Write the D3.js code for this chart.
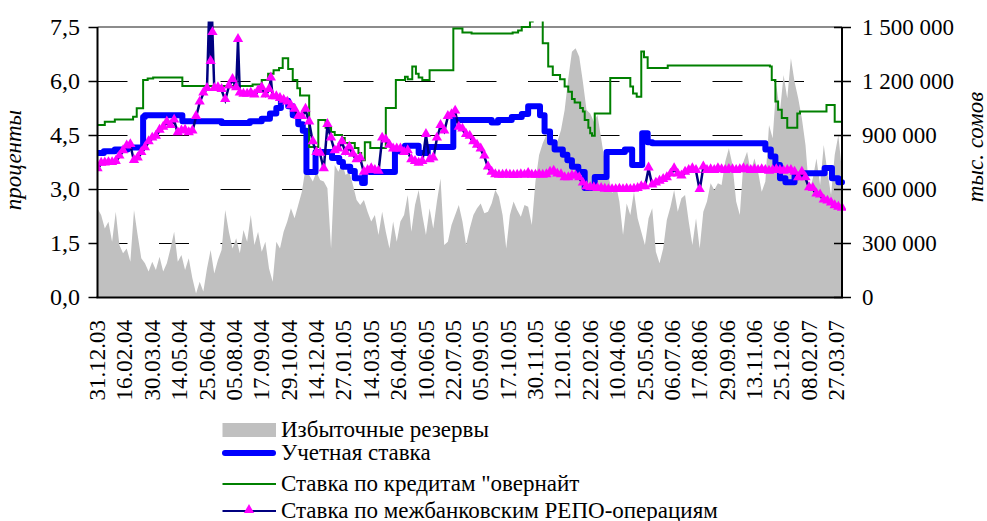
<!DOCTYPE html>
<html>
<head>
<meta charset="utf-8">
<script src="https://cdn.jsdelivr.net/npm/d3@7"></script>
<style>
  body { margin: 0; background: #fff; }
  svg { display: block; }
</style>
</head>
<body>
<svg id="chart" width="987" height="521"></svg>
<script>
// trading-day axis: one category per business day, a label every 30 days
const tickLabels = ["31.12.03","16.02.04","30.03.04","14.05.04","25.06.04","05.08.04","17.09.04","29.10.04",
  "14.12.04","27.01.05","14.03.05","26.04.05","10.06.05","22.07.05","05.09.05","17.10.05","30.11.05",
  "12.01.06","22.02.06","10.04.06","25.05.06","06.07.06","17.08.06","29.09.06","13.11.06","25.12.06",
  "08.02.07","27.03.07"];
const tickEvery = 30;
const lastDay = 816;
const sampleStep = 4;

// excess reserves, thousands of "тыс. сомов"
const reservesK = [492,455,381,418,307,474,289,243,270,196,483,344,215,187,141,196,150,224,141,187,
  270,363,196,233,150,215,104,20,85,30,159,261,131,206,261,483,363,270,326,243,372,307,
  456,289,363,252,307,159,85,307,270,363,419,493,437,511,585,715,678,641,696,650,641,604,270,733,
  696,743,678,696,622,539,511,539,474,419,456,344,474,363,270,419,307,
  419,456,567,363,511,594,456,344,493,381,530,659,289,307,400,456,511,419,289,381,456,493,520,465,
  474,520,594,557,456,270,456,530,483,446,511,502,400,641,789,854,900,
  854,863,863,928,1039,1215,1363,1382,1335,1196,1039,1020,974,1011,882,752,678,576,632,530,344,520,
  456,585,437,363,289,437,493,252,187,270,428,502,594,474,548,567,419,289,437,
  270,474,530,632,594,632,622,752,826,733,530,456,752,807,696,770,696,585,641,956,882,1178,1030,
  1233,1104,1326,1196,1104,993,845,585,659,770,622,845,696,567,789,900,696];

// interbank repo rate, %
const repoRate = [3.55,3.70,3.71,3.72,3.72,3.75,3.90,4.05,4.18,4.22,3.78,3.85,4.00,4.13,4.30,4.40,4.45,
  4.62,4.70,4.85,4.75,4.90,4.55,4.60,4.62,4.55,4.60,5.00,5.40,5.65,5.78,6.53,5.78,5.80,5.75,5.47,5.85,
  6.03,5.80,5.65,5.62,5.62,
  5.65,5.60,5.72,5.80,5.60,5.75,5.55,5.55,5.50,5.45,5.40,5.30,5.20,5.00,5.00,5.20,4.85,4.30,4.00,3.98,
  3.55,4.78,4.40,4.05,4.10,4.30,4.00,4.15,3.95,3.80,3.85,3.45,3.50,3.55,3.50,3.48,4.40,4.35,4.20,4.10,4.10,
  4.10,4.00,4.05,3.80,3.75,3.70,3.75,4.50,3.80,3.85,4.40,4.75,4.60,5.00,5.05,5.15,4.70,4.65,4.50,4.45,
  4.30,4.20,4.10,3.90,3.60,3.45,3.38,3.37,3.37,3.38,3.37,3.36,3.37,3.38,3.37,3.42,3.37,3.37,3.38,3.37,3.38,
  3.45,3.48,3.40,3.38,3.30,3.30,3.35,3.35,3.30,3.15,3.05,3.02,3.02,3.00,3.00,2.98,2.97,2.97,2.97,2.98,
  2.97,2.98,2.97,2.98,3.00,3.05,3.05,3.57,3.10,3.15,3.20,3.25,3.30,3.40,3.55,3.40,3.35,3.45,3.50,3.55,3.50,
  2.97,3.60,3.50,3.52,3.50,3.55,3.52,3.50,3.53,3.52,3.50,3.52,3.55,3.52,3.50,3.52,3.50,3.52,3.50,3.48,
  3.50,3.52,3.50,3.48,3.50,3.50,3.45,3.30,3.45,3.30,3.02,3.00,2.85,2.82,2.68,2.65,2.60,2.52,2.48,2.45];
// single-day repo spikes between the samples [day, %]
const repoSpikes = [[123,8.5],[125,8.5],[126,7.33],[154,7.14],[190,6.07]];

// discount rate, change points [day, %]
const discountRate = [[0,4.00],[7,4.05],[19,4.10],[33,4.15],[50,5.00],[52,5.05],[93,4.88],[136,4.83],
  [167,4.88],[180,4.95],[189,5.10],[196,5.25],[201,5.45],[209,5.30],[214,5.05],[220,4.80],[225,4.62],
  [229,3.47],[239,4.03],[257,3.86],[265,3.75],[269,3.62],[277,3.50],[282,3.30],[290,3.17],[293,3.47],
  [326,4.05],[337,4.20],[352,4.00],[362,4.17],[390,4.92],[432,4.85],[439,4.92],[454,5.00],[465,5.08],
  [472,5.30],[485,5.05],[490,4.60],[496,4.30],[501,4.10],[510,3.95],[515,3.80],[520,3.62],[527,3.47],
  [534,3.03],[545,3.33],[558,4.03],[578,4.10],[586,3.67],[597,4.55],[603,4.30],[608,4.27],[732,4.10],
  [738,3.90],[743,3.67],[748,3.30],[754,3.19],[764,3.39],[772,3.44],[797,3.58],[805,3.30],[812,3.19],
  [816,3.19]];

// overnight credit rate, change points [day, %]
const overnightRate = [[0,4.78],[8,4.87],[19,4.93],[39,5.01],[43,5.24],[50,6.03],[55,6.07],[61,6.10],
  [93,5.86],[170,5.90],[180,6.03],[187,6.20],[193,6.30],[199,6.36],[203,6.63],[209,6.33],[214,6.03],
  [219,5.80],[222,5.60],[232,4.17],[242,4.92],[250,4.70],[256,4.58],[260,4.50],[268,4.42],[271,4.28],
  [282,4.14],[286,4.00],[289,3.80],[293,4.30],[299,4.14],[316,5.25],[327,6.03],[337,6.12],[340,6.05],
  [345,6.40],[349,6.20],[352,6.10],[356,6.03],[364,6.30],[390,7.46],[400,7.35],[410,7.32],[455,7.35],
  [461,7.40],[465,7.50],[474,7.65],[477,7.90],[488,7.05],[494,6.40],[499,6.17],[507,6.05],[512,5.85],
  [516,5.70],[520,5.50],[523,5.40],[529,5.25],[532,5.15],[534,4.92],[538,4.70],[540,4.55],[542,4.48],
  [545,5.10],[562,6.08],[584,5.85],[587,5.65],[591,5.56],[596,6.82],[599,6.66],[603,6.36],[625,6.43],
  [737,6.40],[739,6.03],[743,5.43],[746,5.20],[750,4.97],[756,4.70],[767,5.10],[770,5.15],[799,5.33],
  [808,4.87],[816,4.87]];

const legendNames = ["Избыточные резервы", "Учетная ставка", "Ставка по кредитам \"овернайт",
  "Ставка по межбанковским РЕПО-операциям"];
const leftTicks = [0, 1.5, 3, 4.5, 6, 7.5];
const rightTicks = [0, 300000, 600000, 900000, 1200000, 1500000];

//======================= SCALES =========================
const svg = d3.select("#chart"),
  plotL = 97.5, plotR = 842, plotT = 27, plotB = 297,
  serif = "'Liberation Serif', 'Times New Roman', serif",
  fontSize = "23px";

const loc = d3.formatLocale({decimal: ",", thousands: " ", grouping: [3], currency: ["", ""]});
const fmtL = loc.format(".1f"), fmtR = loc.format(",d");

const x = d3.scaleLinear().domain([0, lastDay]).range([plotL, plotR]),
  yL = d3.scaleLinear().domain([0, 7.5]).range([plotB, plotT]),
  yR = d3.scaleLinear().domain([0, 1500000]).range([plotB, plotT]);

svg.append("clipPath").attr("id", "clip")
  .append("rect").attr("x", plotL).attr("y", 21.5).attr("width", plotR - plotL + 4).attr("height", plotB - 21.5 + 4);

//======================= GRID =========================
svg.append("g").selectAll("line")
  .data(leftTicks.filter(d => d > 0 && d < 7.5))
  .enter().append("line")
  .attr("x1", plotL).attr("x2", plotR)
  .attr("y1", d => yL(d) + 0.5).attr("y2", d => yL(d) + 0.5)
  .attr("stroke", "#000").attr("stroke-width", 1)
  .attr("stroke-dasharray", "30,31.5");

svg.append("line")
  .attr("x1", plotL).attr("x2", plotR).attr("y1", plotT).attr("y2", plotT)
  .attr("stroke", "#8c8c8c").attr("stroke-width", 2);

//======================= SERIES =========================
const plot = svg.append("g").attr("clip-path", "url(#clip)");

const area = d3.area()
  .x((d, i) => x(i * sampleStep))
  .y0(plotB)
  .y1(d => yR(d * 1000));

plot.append("path")
  .datum(reservesK)
  .attr("d", area)
  .attr("fill", "#c0c0c0");

const stepLine = d3.line()
  .curve(d3.curveStepAfter)
  .x(d => x(d[0]))
  .y(d => yL(d[1]));

plot.append("path")
  .datum(discountRate)
  .attr("d", stepLine)
  .attr("fill", "none").attr("stroke", "#0000ff").attr("stroke-width", 6)
  .attr("stroke-linejoin", "round").attr("stroke-linecap", "round");

plot.append("path")
  .datum(overnightRate)
  .attr("d", stepLine)
  .attr("fill", "none").attr("stroke", "#008000").attr("stroke-width", 2);

const repo = repoRate.map((v, k) => [k * sampleStep, v]).concat(repoSpikes)
  .sort((a, b) => a[0] - b[0]);

plot.append("path")
  .datum(repo)
  .attr("d", d3.line().x(d => x(d[0])).y(d => yL(d[1])))
  .attr("fill", "none").attr("stroke", "#000080").attr("stroke-width", 2.5);

const tri = d3.symbol(d3.symbolTriangle, 46);
plot.selectAll(".mark")
  .data(repo)
  .enter().append("path")
  .attr("class", "mark")
  .attr("d", tri)
  .attr("transform", d => "translate(" + x(d[0]) + "," + (yL(d[1]) - 1) + ")")
  .attr("fill", "#ff00ff");

//======================= AXES =========================
svg.append("line").attr("x1", plotL).attr("x2", plotL).attr("y1", plotT).attr("y2", plotB + 1)
  .attr("stroke", "#000").attr("stroke-width", 2);
svg.append("line").attr("x1", plotR).attr("x2", plotR).attr("y1", plotT).attr("y2", plotB + 1)
  .attr("stroke", "#000").attr("stroke-width", 2);
svg.append("line").attr("x1", plotL - 1).attr("x2", plotR + 1).attr("y1", plotB + 0.5).attr("y2", plotB + 0.5)
  .attr("stroke", "#000").attr("stroke-width", 2);

const lAxis = svg.append("g").selectAll("g").data(leftTicks).enter().append("g");
lAxis.append("line")
  .attr("x1", plotL - 9).attr("x2", plotL)
  .attr("y1", d => yL(d) + 0.5).attr("y2", d => yL(d) + 0.5)
  .attr("stroke", "#000").attr("stroke-width", 1.5);
lAxis.append("text")
  .attr("x", 80).attr("y", d => yL(d)).attr("dy", "0.34em")
  .attr("text-anchor", "end")
  .style("font-family", serif).style("font-size", "24px")
  .text(d => fmtL(d));

const rAxis = svg.append("g").selectAll("g").data(rightTicks).enter().append("g");
rAxis.append("line")
  .attr("x1", plotR - 8).attr("x2", plotR + 9)
  .attr("y1", d => yR(d) + 0.5).attr("y2", d => yR(d) + 0.5)
  .attr("stroke", "#000").attr("stroke-width", 1.5);
rAxis.append("text")
  .attr("x", 862).attr("y", d => yR(d)).attr("dy", "0.34em")
  .attr("text-anchor", "start")
  .style("font-family", serif).style("font-size", fontSize)
  .text(d => fmtR(d));

svg.append("g").selectAll("text")
  .data(tickLabels)
  .enter().append("text")
  .attr("transform", (d, i) => "translate(" + x(i * tickEvery) + ",320) rotate(-90)")
  .attr("dy", "0.33em")
  .attr("text-anchor", "end")
  .style("font-family", serif).style("font-size", fontSize)
  .text(d => d);

svg.append("text")
  .attr("transform", "translate(21,160) rotate(-90)")
  .attr("text-anchor", "middle")
  .style("font-family", serif).style("font-size", fontSize).style("font-style", "italic")
  .text("проценты");

svg.append("text")
  .attr("transform", "translate(983,147) rotate(-90)")
  .attr("text-anchor", "middle")
  .style("font-family", serif).style("font-size", fontSize).style("font-style", "italic")
  .text("тыс. сомов");

//======================= LEGEND =========================
const rowY = [430, 453, 484, 511];
const lg = svg.append("g");

lg.append("rect").attr("x", 222.5).attr("y", rowY[0] - 7).attr("width", 53.5).attr("height", 14)
  .attr("fill", "#c0c0c0");
lg.append("line").attr("x1", 225).attr("x2", 273).attr("y1", rowY[1]).attr("y2", rowY[1])
  .attr("stroke", "#0000ff").attr("stroke-width", 6).attr("stroke-linecap", "round");
lg.append("line").attr("x1", 222.5).attr("x2", 276).attr("y1", rowY[2]).attr("y2", rowY[2])
  .attr("stroke", "#008000").attr("stroke-width", 2);
lg.append("line").attr("x1", 222.5).attr("x2", 276).attr("y1", rowY[3]).attr("y2", rowY[3])
  .attr("stroke", "#000080").attr("stroke-width", 2);
lg.append("path").attr("d", tri).attr("transform", "translate(249," + (rowY[3] - 1) + ")")
  .attr("fill", "#ff00ff");

lg.selectAll("text")
  .data(legendNames)
  .enter().append("text")
  .attr("x", 281).attr("y", (d, i) => rowY[i] + 6.5)
  .style("font-family", serif).style("font-size", fontSize)
  .text(d => d);
</script>
</body>
</html>
